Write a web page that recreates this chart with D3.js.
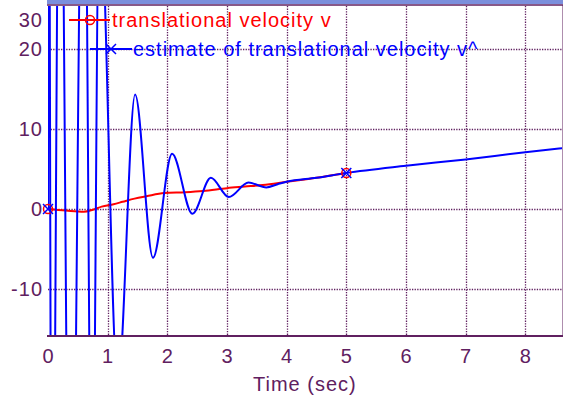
<!DOCTYPE html>
<html><head><meta charset="utf-8">
<script src="https://cdn.jsdelivr.net/npm/d3@7"></script>
<style>
html,body{margin:0;padding:0;background:#fff;}
svg{display:block;}
text{font-family:Arial,"Liberation Sans",sans-serif;font-size:20px;letter-spacing:1px;}
</style></head>
<body><svg id="c" width="563" height="402"></svg>
<script>
// ---- data ----
const xTicks = [0,1,2,3,4,5,6,7,8];
const yTicks = [-10,0,10,20];
const yTopLabel = ["30"];
const xLabel = "Time (sec)";
const legendLabels = ["translational velocity v", "estimate of translational velocity v^"];
// translational velocity v
const redT = [0, 0.3, 0.6, 0.75, 0.9, 1.1, 1.25, 1.45, 1.65, 1.95, 2.3, 2.6, 3.0, 3.3, 3.6, 4.0, 4.5, 5.0];
const redV = [0, -0.2, -0.35, -0.1, 0.3, 0.6, 0.9, 1.3, 1.6, 2.0, 2.1, 2.25, 2.6, 2.8, 3.0, 3.4, 3.9, 4.5];
// estimate v^
const blueT = [0, 0.01, 0.065, 0.2, 0.38, 0.6, 0.74, 0.86, 1.17, 1.46, 1.76, 2.08, 2.42, 2.73, 3.03, 3.36, 3.66, 3.85, 4.0, 4.5, 5.0, 6.0, 7.0, 8.0, 8.62];
const blueV = [0, 60, -60, 60, -60, 60, -45, 40, -22, 14.3, -6.1, 6.9, -0.6, 3.9, 1.5, 3.3, 2.7, 3.1, 3.4, 3.9, 4.5, 5.4, 6.2, 7.1, 7.6];
const markerT = [0, 5];

// ---- layout ----
const L = 48, R = 562, T = 5, B = 336;
const svg = d3.select("#c");
const x = d3.scaleLinear().domain([0, 8]).range([L, L + 8 * 59.66]);
const y = d3.scaleLinear().domain([0, 10]).range([209, 129]);
const purple = "#602060", red = "#ff0000", blue = "#0000ff";

// top band
svg.append("rect").attr("x", 47).attr("y", 0).attr("width", 563 - 47).attr("height", 4).attr("fill", "#7b8fdc");
svg.append("line").attr("x1", 47).attr("x2", 563).attr("y1", 5).attr("y2", 5).attr("stroke", purple).attr("stroke-width", 1.5);

// grid
const g = svg.append("g");
g.selectAll("line.vx").data(xTicks.filter(d => d > 0)).join("line")
  .attr("x1", d => Math.round(x(d)) + 0.5).attr("x2", d => Math.round(x(d)) + 0.5)
  .attr("y1", T + 1).attr("y2", B)
  .attr("stroke", purple).attr("stroke-width", 1.3).attr("stroke-dasharray", "1.3,1.3");
g.selectAll("line.hy").data(yTicks).join("line")
  .attr("y1", d => Math.round(y(d)) + 0.5).attr("y2", d => Math.round(y(d)) + 0.5)
  .attr("x1", L).attr("x2", R)
  .attr("stroke", purple).attr("stroke-width", 1.3).attr("stroke-dasharray", "1.3,1.3");

// bottom axis line
svg.append("line").attr("x1", L - 1).attr("x2", R + 1).attr("y1", B).attr("y2", B).attr("stroke", purple).attr("stroke-width", 2);
svg.append("line").attr("x1", R + 0.5).attr("x2", R + 0.5).attr("y1", T).attr("y2", B).attr("stroke", purple).attr("stroke-width", 1).attr("opacity", 0.5);

// tick labels
svg.selectAll("text.xt").data(xTicks).join("text")
  .attr("x", d => x(d) + 0.5).attr("y", 363).attr("text-anchor", "middle").attr("fill", purple).text(d => d);
svg.selectAll("text.yt").data(yTicks).join("text")
  .attr("x", 43).attr("y", d => y(d) + 7).attr("text-anchor", "end").attr("fill", purple).text(d => d);
svg.selectAll("text.ytop").data(yTopLabel).join("text")
  .attr("x", 43).attr("y", 27).attr("text-anchor", "end").attr("fill", purple).text(d => d);
svg.append("text").attr("x", 253).attr("y", 391).attr("fill", purple).text(xLabel);

// clip
svg.append("clipPath").attr("id", "clip").append("rect").attr("x", L).attr("y", T + 1).attr("width", R - L).attr("height", B - T - 2);
const plot = svg.append("g").attr("clip-path", "url(#clip)");

const redData = redT.map((t, i) => [t, redV[i]]);
const blueData = blueT.map((t, i) => [t, blueV[i]]);
const lineGen = d3.line().x(d => x(d[0])).y(d => y(d[1])).curveMonotoneX;
plot.append("path").datum(redData).attr("d", d3.line().x(d => x(d[0])).y(d => y(d[1])).curve(d3.curveMonotoneX))
  .attr("fill", "none").attr("stroke", red).attr("stroke-width", 2);
plot.append("path").datum(blueData).attr("d", d3.line().x(d => x(d[0])).y(d => y(d[1])).curve(d3.curveMonotoneX))
  .attr("fill", "none").attr("stroke", blue).attr("stroke-width", 2);

// markers
function circleMarker(sel, cx, cy) {
  sel.append("circle").attr("cx", cx).attr("cy", cy).attr("r", 4.5).attr("fill", "none").attr("stroke", red).attr("stroke-width", 1.5);
}
function xMarker(sel, cx, cy) {
  const s = 5;
  sel.append("path").attr("d", `M${cx - s},${cy - s}L${cx + s},${cy + s}M${cx - s},${cy + s}L${cx + s},${cy - s}`)
    .attr("stroke", blue).attr("stroke-width", 1.5).attr("fill", "none");
}
const redInterp = t => { const i = redT.indexOf(t); return redV[i]; };
const blueInterp = t => { const i = blueT.indexOf(t); return blueV[i]; };
const mk = svg.append("g");
markerT.forEach(t => circleMarker(mk, x(t), y(redInterp(t))));
markerT.forEach(t => xMarker(mk, x(t), y(blueInterp(t))));

// legend
const lg = svg.append("g");
lg.append("line").attr("x1", 69).attr("x2", 110).attr("y1", 20).attr("y2", 20).attr("stroke", red).attr("stroke-width", 2);
circleMarker(lg, 90, 20);
lg.append("text").attr("x", 112).attr("y", 27).attr("fill", red).text(legendLabels[0]);
lg.append("line").attr("x1", 90).attr("x2", 132).attr("y1", 49).attr("y2", 49).attr("stroke", blue).attr("stroke-width", 2);
xMarker(lg, 111, 49);
lg.append("text").attr("x", 133).attr("y", 56).attr("fill", blue).text(legendLabels[1]);
</script></body></html>
